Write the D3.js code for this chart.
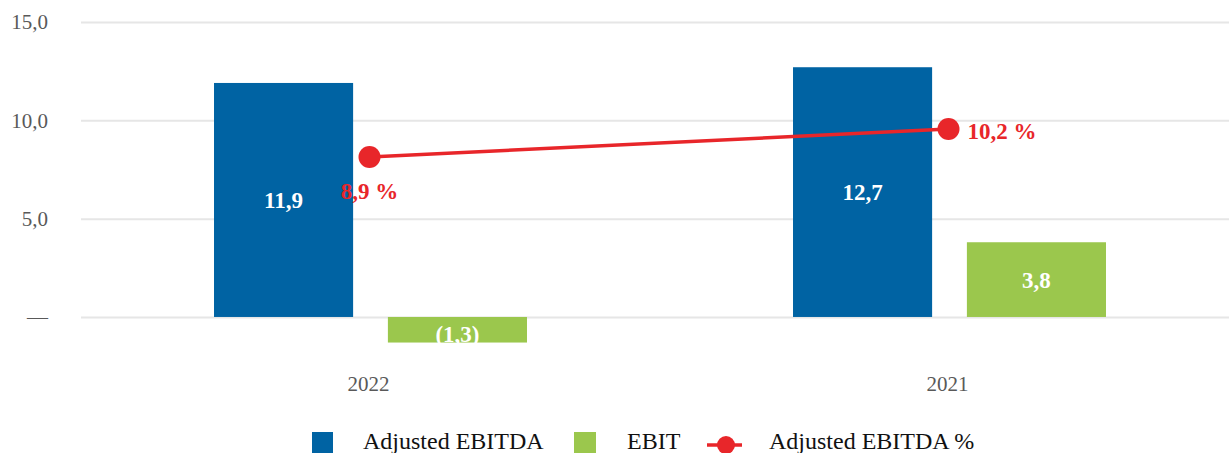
<!DOCTYPE html>
<html>
<head>
<meta charset="utf-8">
<script src="https://cdn.jsdelivr.net/npm/d3@7"></script>
<style>
  body { margin: 0; background: #fff; }
  svg, svg text { font-family: "Liberation Serif", "Times New Roman", Times, serif; }
</style>
</head>
<body>
<div id="chart"></div>
<script>
// data
var years = ["2022", "2021"];
var seriesNames = ["Adjusted EBITDA", "EBIT"];
var adjEbitda = [11.9, 12.7];
var ebit = [-1.3, 3.8];
var adjEbitdaPct = [8.9, 10.2];
var yTicks = [0, 5, 10, 15];

var colors = { "Adjusted EBITDA": "#0063a3", "EBIT": "#9bc74d", line: "#e8262a" };
var serif = "Liberation Serif";

var width = 1229, height = 453;

var svg = d3.select("#chart").append("svg")
    .attr("width", width)
    .attr("height", height);

// scales
var x = d3.scaleBand().domain(years).range([81, 1239]).padding(0);
var xSub = d3.scaleBand().domain(seriesNames).range([0, x.bandwidth()])
    .paddingInner(0.2).paddingOuter(0.765);
var y = d3.scaleLinear().domain([-2, 15]).range([356.3, 22]);
// percentage series sits on its own (hidden) axis
var yPct = d3.scaleLinear().domain([0, 15]).range([348.7, 25.6]);

var fmt = function(v) {
    var s = Math.abs(v).toFixed(1).replace(".", ",");
    return v < 0 ? "(" + s + ")" : s;
};

// gridlines
var grid = svg.append("g")
    .attr("transform", "translate(81,0)")
    .call(d3.axisLeft(y).tickValues(yTicks).tickSize(-1150).tickFormat(""));
grid.select(".domain").remove();
grid.selectAll("line").attr("stroke", "#e6e6e6").attr("stroke-width", 2);

// y labels
var yAxis = svg.append("g")
    .attr("transform", "translate(48,0)")
    .call(d3.axisLeft(y).tickValues(yTicks).tickSize(0).tickPadding(0)
        .tickFormat(function(d) { return d === 0 ? "—" : d.toFixed(1).replace(".", ","); }));
yAxis.attr("font-family", serif);
yAxis.select(".domain").remove();
yAxis.selectAll("text")
    .attr("font-size", 21)
    .attr("fill", "#595959")
    .attr("dy", "0.32em");

// x labels
var xAxis = svg.append("g")
    .attr("transform", "translate(0,391)")
    .call(d3.axisBottom(x).tickSize(0).tickPadding(0));
xAxis.attr("font-family", serif);
xAxis.select(".domain").remove();
xAxis.selectAll("text")
    .attr("font-size", 21)
    .attr("fill", "#595959")
    .attr("y", 0)
    .attr("dy", 0)
    .attr("dx", -2);

// bars
var barData = [];
years.forEach(function(yr, i) {
    barData.push({ year: yr, key: "Adjusted EBITDA", value: adjEbitda[i] });
    barData.push({ year: yr, key: "EBIT", value: ebit[i] });
});

var bars = svg.append("g").attr("font-family", serif).selectAll("g.bar")
    .data(barData)
    .enter().append("g")
    .attr("class", "bar")
    .attr("transform", function(d) { return "translate(" + (x(d.year) + xSub(d.key)) + ",0)"; });

bars.append("rect")
    .attr("y", function(d) { return y(Math.max(0, d.value)); })
    .attr("width", xSub.bandwidth())
    .attr("height", function(d) { return Math.abs(y(d.value) - y(0)); })
    .attr("fill", function(d) { return colors[d.key]; });

bars.append("text")
    .attr("x", xSub.bandwidth() / 2)
    .attr("y", function(d) { return (y(d.value) + y(0)) / 2; })
    .attr("dy", d => d.value < 0 ? "0.55em" : "0.35em")
    .attr("text-anchor", "middle")
    .attr("font-size", 23)
    .attr("font-weight", "bold")
    .attr("fill", "#fff")
    .text(function(d) { return fmt(d.value); });

// percentage line
var pts = years.map(function(yr, i) {
    return { year: yr, value: adjEbitdaPct[i], i: i };
});
var cx = function(d) { return x(d.year) + x.bandwidth() / 2 - 1; };

svg.append("path")
    .datum(pts)
    .attr("fill", "none")
    .attr("stroke", colors.line)
    .attr("stroke-width", 3.5)
    .attr("d", d3.line().x(cx).y(function(d) { return yPct(d.value); }));

svg.append("g").selectAll("circle")
    .data(pts)
    .enter().append("circle")
    .attr("cx", cx)
    .attr("cy", function(d) { return yPct(d.value); })
    .attr("r", 11)
    .attr("fill", colors.line);

svg.append("g").attr("font-family", serif).selectAll("text")
    .data(pts)
    .enter().append("text")
    .attr("x", function(d) { return d.i === 0 ? cx(d) : cx(d) + 19; })
    .attr("y", function(d) { return d.i === 0 ? yPct(d.value) + 42 : yPct(d.value) + 10; })
    .attr("text-anchor", function(d) { return d.i === 0 ? "middle" : "start"; })
    .attr("font-size", 23)
    .attr("font-weight", "bold")
    .attr("fill", colors.line)
    .text(function(d) { return d.value.toFixed(1).replace(".", ",") + " %"; });

// legend
var legend = svg.append("g").attr("font-family", serif).attr("font-size", 24).attr("fill", "#111");
legend.append("rect").attr("x", 312).attr("y", 432).attr("width", 21).attr("height", 24).attr("fill", colors["Adjusted EBITDA"]);
legend.append("text").attr("x", 363).attr("y", 449).text("Adjusted EBITDA");
legend.append("rect").attr("x", 574).attr("y", 432).attr("width", 22).attr("height", 24).attr("fill", colors["EBIT"]);
legend.append("text").attr("x", 627).attr("y", 449).text("EBIT");
legend.append("line").attr("x1", 707).attr("x2", 742).attr("y1", 445).attr("y2", 445)
    .attr("stroke", colors.line).attr("stroke-width", 3.5);
legend.append("circle").attr("cx", 726).attr("cy", 445).attr("r", 9).attr("fill", colors.line);
legend.append("text").attr("x", 769).attr("y", 449).text("Adjusted EBITDA %");
</script>
</body>
</html>
